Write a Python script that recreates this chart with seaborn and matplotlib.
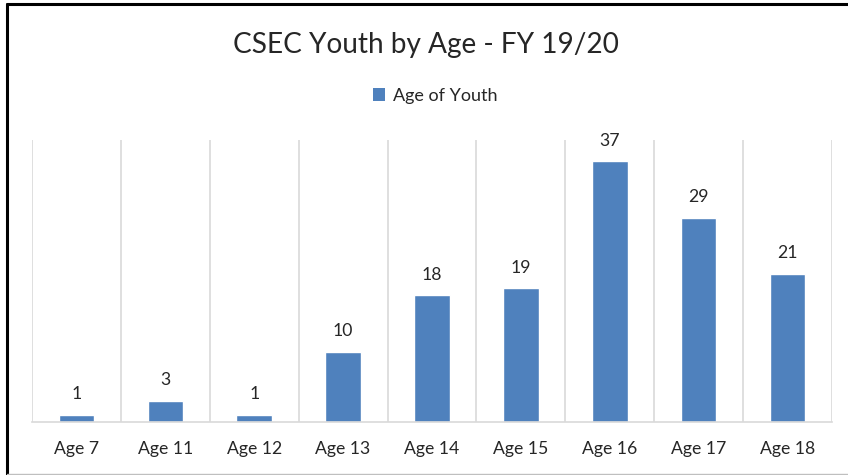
import matplotlib
matplotlib.use("Agg")
import matplotlib.pyplot as plt
import seaborn as sns
import pandas as pd
from matplotlib.lines import Line2D
from matplotlib.patches import Patch

categories = ["Age 7", "Age 11", "Age 12", "Age 13", "Age 14", "Age 15", "Age 16", "Age 17", "Age 18"]
counts = [1, 3, 1, 10, 18, 19, 37, 29, 21]
series_name = "Age of Youth"
title = "CSEC Youth by Age - FY 19/20"

sns.set_theme(style="white")
plt.rcParams["font.family"] = ["Lato", "DejaVu Sans"]

W, H = 848, 475
fig = plt.figure(figsize=(W / 100, H / 100), dpi=100)
ax = fig.add_axes([32 / W, 1 - 422 / H, 800 / W, 282 / H])

df = pd.DataFrame({"category": categories, "count": counts})
bar_color = "#4F81BD"
sns.barplot(data=df, x="category", y="count", color=bar_color, width=0.40,
            saturation=1, ax=ax)

ax.set_xlim(-0.5, len(categories) - 0.5)
ax.set_ylim(0, 40)
ax.set_xlabel("")
ax.set_ylabel("")
ax.set_yticks([])

# category boundary gridlines
for i in range(len(categories) + 1):
    ax.axvline(i - 0.5, color="#D9D9D9", linewidth=1.2, zorder=0)

for side in ["top", "right", "left"]:
    ax.spines[side].set_visible(False)
ax.spines["bottom"].set_color("#D9D9D9")
ax.spines["bottom"].set_linewidth(1.2)

ax.tick_params(axis="x", length=0, pad=14, labelsize=12.7, labelcolor="#262626")

for i, v in enumerate(counts):
    ax.annotate(str(v), (i, v), xytext=(0, 9), textcoords="offset points",
                ha="center", va="bottom", fontsize=12.7, color="#262626")

fig.text(0.5 + 2 / W, 1 - 45 / H, title, ha="center", va="center",
         fontsize=20.2, color="#262626")

handle = Patch(facecolor=bar_color, edgecolor="none")
fig.legend([handle], [series_name], loc="center", bbox_to_anchor=(435 / W, 1 - 96 / H),
           frameon=False, fontsize=13, handlelength=0.7, handleheight=0.7,
           handletextpad=0.4, labelcolor="#262626")

# outer chart frame
fig.add_artist(Line2D([7 / W, 1], [1 - 4 / H, 1 - 4 / H], color="black", linewidth=2.2,
                      transform=fig.transFigure))
fig.add_artist(Line2D([7 / W, 7 / W], [0, 1 - 4 / H], color="black", linewidth=2.2,
                      transform=fig.transFigure))
fig.add_artist(Line2D([7 / W, 1], [1 - 474 / H, 1 - 474 / H], color="#BFBFBF", linewidth=1,
                      transform=fig.transFigure))

fig.savefig("out.png", dpi=100)
